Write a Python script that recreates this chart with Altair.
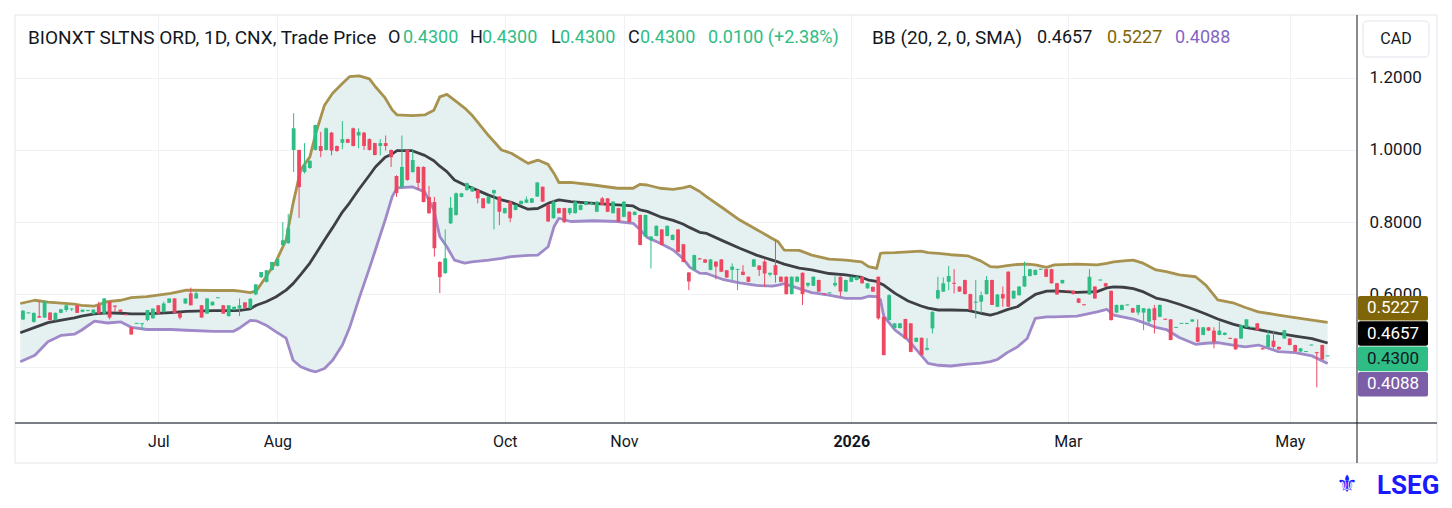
import altair as alt
import pandas as pd

# ---------------- data ----------------
opens = [
    .531, .549, .524, .540, .536, .550, .529, .549, .557, .559,
    .570, .552, .556, .546, .570, .547, .580, .569, .558, .545,
    .509, .520, .518, .529, .534, .570, .552, .577, .589, .549,
    .575, .603, .589, .570, .547, .570, .591, .570, .540, .557,
    .561, .578, .562, .600, .648, .635, .668, .679, .737, .742,
    1.000, 1.000, .939, .950, 1.000, 1.011, 1.000, 1.048, 1.011, 1.020,
    1.030, 1.060, 1.040, 1.048, 1.030, 1.019, 1.011, 1.019, 1.000, .928,
    .897, 1.000, .939, .953, .953, .870, .856, .690, .659, .797,
    .820, .870, .889, .885, .889, .866, .852, .880, .871, .825,
    .857, .834, .850, .854, .854, .871, .898, .848, .811, .839,
    .839, .825, .825, .834, .848, .850, .829, .866, .866, .825,
    .839, .815, .829, .820, .820, .760, .750, .762, .780, .762,
    .751, .780, .739, .661, .668, .700, .697, .668, .691, .697,
    .667, .668, .669, .663, .649, .677, .680, .691, .655, .681,
    .649, .649, .601, .635, .660, .625, .624, .640, .602, .604,
    .625, .649, .608, .635, .640, .649, .617, .621, .649, .538,
    .529, .507, .507, .532, .520, .469, .480, .447, .506, .589,
    .608, .635, .632, .622, .640, .601, .577, .580, .601, .640,
    .566, .601, .663, .589, .598, .622, .651, .654, .670, .670,
    .670, .631, .631, .611, .610, .589, .572, .600, .622, .640,
    .631, .610, .550, .557, .571, .562, .550, .550, .525, .562,
    .538, .532, .531, .509, .520, .520, .525, .509, .488, .509,
    .500, .488, .488, .479, .478, .478, .509, .509, .520, .451,
    .455, .472, .455, .478, .478, .460, .442, .442, .460, .440,
    .460, .430,
]
highs = [
    .557, .550, .550, .582, .582, .551, .550, .560, .572, .561,
    .571, .558, .557, .559, .580, .590, .581, .570, .558, .546,
    .510, .521, .520, .557, .561, .571, .580, .589, .590, .550,
    .589, .619, .607, .571, .589, .580, .592, .571, .570, .566,
    .589, .579, .590, .628, .662, .667, .690, .698, .800, .823,
    1.102, 1.001, 1.019, .972, 1.070, 1.050, 1.062, 1.050, 1.012, 1.080,
    1.031, 1.062, 1.060, 1.050, 1.032, 1.020, 1.030, 1.040, 1.001, .930,
    1.040, 1.001, 1.000, .955, .955, .900, .870, .692, .780, .870,
    .882, .881, .910, .899, .890, .867, .872, .890, .872, .840,
    .858, .849, .860, .871, .867, .911, .899, .849, .862, .840,
    .840, .840, .858, .849, .858, .857, .858, .870, .867, .858,
    .840, .858, .830, .830, .821, .821, .762, .791, .781, .791,
    .766, .781, .740, .662, .710, .701, .698, .698, .692, .698,
    .668, .686, .670, .681, .650, .698, .681, .697, .660, .751,
    .650, .650, .650, .651, .661, .633, .650, .641, .603, .606,
    .650, .650, .641, .650, .650, .650, .632, .622, .650, .539,
    .601, .521, .521, .533, .521, .481, .481, .479, .553, .649,
    .647, .679, .670, .623, .641, .602, .640, .608, .651, .641,
    .601, .622, .664, .611, .623, .691, .671, .669, .671, .671,
    .671, .632, .641, .612, .611, .590, .573, .670, .623, .641,
    .632, .611, .572, .572, .572, .563, .571, .562, .563, .571,
    .572, .533, .532, .510, .521, .521, .531, .531, .510, .510,
    .509, .525, .495, .480, .479, .516, .532, .510, .521, .452,
    .500, .500, .456, .502, .479, .461, .452, .443, .461, .441,
    .461, .430,
]
lows = [
    .529, .548, .522, .535, .535, .528, .528, .548, .552, .554,
    .549, .551, .553, .545, .545, .546, .531, .552, .552, .542,
    .489, .519, .503, .526, .533, .547, .550, .576, .549, .531,
    .574, .570, .588, .536, .546, .569, .590, .547, .539, .556,
    .540, .560, .560, .598, .645, .633, .666, .677, .735, .740,
    .939, .812, .935, .948, .998, .980, .998, .985, .995, 1.002,
    1.019, 1.010, 1.005, 1.000, .998, .985, .985, .998, .953, .870,
    .895, .915, .937, .890, .855, .823, .705, .604, .657, .795,
    .818, .869, .887, .884, .852, .838, .851, .780, .792, .824,
    .800, .833, .849, .853, .853, .870, .856, .801, .810, .824,
    .799, .820, .824, .833, .847, .849, .828, .847, .828, .824,
    .801, .814, .799, .819, .736, .759, .672, .761, .736, .761,
    .750, .717, .689, .612, .667, .697, .687, .667, .642, .662,
    .646, .640, .612, .653, .634, .676, .651, .621, .650, .633,
    .634, .600, .600, .634, .571, .620, .623, .607, .600, .603,
    .621, .594, .607, .634, .639, .630, .616, .607, .530, .432,
    .528, .506, .506, .477, .440, .468, .431, .445, .492, .586,
    .607, .612, .603, .607, .600, .556, .534, .548, .600, .571,
    .565, .566, .566, .588, .597, .621, .650, .653, .669, .648,
    .630, .599, .630, .609, .600, .576, .570, .599, .588, .639,
    .621, .528, .549, .556, .570, .549, .543, .501, .520, .492,
    .537, .530, .473, .508, .519, .519, .524, .468, .487, .499,
    .451, .487, .487, .477, .447, .477, .508, .508, .500, .447,
    .454, .451, .447, .477, .459, .441, .441, .441, .459, .343,
    .419, .430,
]
closes = [
    .555, .549, .549, .536, .580, .529, .549, .559, .570, .561,
    .549, .558, .556, .558, .547, .589, .536, .566, .552, .543,
    .489, .520, .520, .557, .561, .547, .575, .589, .549, .536,
    .589, .570, .603, .536, .589, .580, .591, .547, .570, .566,
    .570, .563, .588, .628, .662, .667, .690, .698, .750, .783,
    1.060, .897, .958, .970, 1.069, .997, 1.060, .998, .997, 1.030,
    1.020, 1.011, 1.050, 1.011, 1.000, .986, 1.019, 1.011, .980, .881,
    .953, .917, .972, .909, .856, .825, .728, .648, .700, .840,
    .880, .880, .908, .898, .866, .839, .871, .889, .829, .839,
    .811, .848, .859, .863, .866, .910, .857, .802, .857, .825,
    .800, .839, .857, .848, .857, .853, .857, .848, .829, .857,
    .802, .857, .800, .829, .737, .820, .760, .790, .737, .790,
    .765, .718, .690, .636, .709, .697, .688, .697, .677, .663,
    .647, .677, .670, .654, .635, .697, .668, .658, .660, .654,
    .635, .601, .649, .649, .601, .632, .649, .608, .601, .605,
    .632, .608, .640, .649, .649, .631, .631, .608, .534, .432,
    .598, .520, .520, .478, .441, .480, .432, .452, .552, .612,
    .631, .651, .630, .608, .601, .557, .580, .598, .640, .571,
    .600, .589, .566, .610, .622, .651, .670, .668, .670, .649,
    .631, .600, .640, .610, .601, .577, .571, .649, .589, .640,
    .622, .529, .571, .571, .571, .550, .571, .562, .560, .529,
    .571, .531, .474, .509, .520, .520, .531, .469, .509, .500,
    .469, .500, .494, .478, .448, .515, .531, .509, .501, .448,
    .488, .455, .448, .501, .460, .442, .451, .442, .460, .438,
    .420, .430,
]

# Bollinger bands (20, 2) read at sample bars
band_idx = [
    -0.5, 2.2, 4.6, 7.1, 9.5, 10.8, 13.2, 15.6, 18.1, 20.0,
    22.9, 27.3, 30.2, 35.2, 38.9, 40.1, 42.0, 43.1, 44.9, 46.7,
    48.6, 49.9, 51.3, 53.0, 54.1, 55.7, 57.2, 59.0, 60.3, 62.1,
    64.0, 65.1, 66.9, 68.2, 69.1, 71.9, 74.2, 75.9, 77.0, 78.3,
    79.7, 81.6, 82.9, 86.0, 88.4, 90.2, 93.3, 95.1, 97.0, 98.1,
    99.0, 101.2, 105.4, 109.8, 112.7, 114.0, 115.3, 117.7, 120.1, 121.9,
    123.2, 125.0, 126.3, 129.2, 132.4, 135.5, 138.4, 139.5, 140.6, 143.4,
    145.7, 148.9, 152.0, 154.9, 156.2, 157.7, 158.4, 159.0, 161.1, 163.5,
    165.9, 167.2, 169.1, 171.4, 174.5, 176.9, 178.7, 180.0, 181.8, 183.7,
    185.5, 187.0, 189.1, 190.5, 194.7, 198.4, 200.2, 201.5, 203.3, 205.1,
    207.0, 209.3, 211.2, 213.6, 216.6, 218.5, 220.7, 223.5, 225.8, 228.2,
    231.9, 235.0, 238.1, 241.0,
]
band_upper = [
    .575, .584, .579, .576, .573, .570, .568, .580, .584, .591,
    .594, .603, .612, .611, .611, .609, .605, .610, .649, .690,
    .751, .853, .945, .981, 1.047, 1.124, 1.157, 1.184, 1.203, 1.205,
    1.197, 1.175, 1.144, 1.111, 1.097, 1.095, 1.097, 1.110, 1.147, 1.154,
    1.138, 1.116, 1.097, 1.040, 1.000, .991, .963, .972, .960, .935,
    .910, .910, .903, .894, .894, .905, .903, .894, .891, .895,
    .900, .885, .870, .840, .806, .780, .755, .746, .723, .722,
    .709, .698, .695, .690, .677, .672, .714, .715, .716, .718,
    .720, .716, .714, .710, .707, .693, .677, .676, .680, .683,
    .684, .682, .675, .682, .684, .682, .686, .690, .693, .695,
    .686, .668, .663, .654, .649, .626, .585, .577, .564, .552,
    .543, .536, .529, .5227,
]
band_mid = [
    .494, .509, .522, .529, .535, .540, .546, .549, .548, .546,
    .546, .550, .553, .555, .555, .556, .560, .570, .580, .593,
    .612, .630, .655, .687, .713, .751, .785, .828, .853, .892,
    .930, .953, .980, .989, .998, .998, .985, .970, .955, .940,
    .917, .903, .895, .875, .862, .855, .836, .838, .852, .858,
    .862, .857, .852, .848, .845, .834, .830, .815, .805, .795,
    .785, .772, .769, .749, .728, .709, .695, .690, .684, .673,
    .668, .658, .654, .647, .640, .636, .630, .626, .603, .582,
    .568, .562, .557, .557, .556, .548, .543, .548, .558, .566,
    .585, .600, .609, .610, .606, .608, .618, .621, .620, .616,
    .607, .590, .584, .573, .557, .546, .532, .518, .509, .503,
    .492, .485, .478, .4657,
]
band_lower = [
    .414, .432, .469, .487, .490, .501, .526, .521, .524, .509,
    .503, .503, .501, .498, .498, .508, .528, .527, .515, .497,
    .479, .418, .400, .390, .386, .395, .418, .460, .507, .590,
    .673, .723, .806, .871, .895, .898, .884, .834, .760, .732,
    .695, .687, .690, .695, .700, .705, .708, .709, .732, .788,
    .811, .802, .804, .802, .797, .779, .758, .742, .723, .700,
    .675, .659, .658, .642, .632, .625, .623, .626, .630, .616,
    .605, .598, .589, .589, .595, .594, .585, .540, .501, .474,
    .432, .409, .404, .402, .407, .410, .414, .420, .439, .455,
    .478, .534, .538, .538, .540, .552, .559, .543, .537, .532,
    .522, .509, .503, .481, .462, .465, .467, .460, .455, .460,
    .442, .439, .430, .4088,
]

month_idx = [25, 47, 89, 111, 153, 193, 234]
month_names = ["Jul", "Aug", "Oct", "Nov", "2026", "Mar", "May"]
year_label = "2026"
y_ticks = [0.4, 0.6, 0.8, 1.0, 1.2]

header_parts = ["BIONXT SLTNS ORD, 1D, CNX, Trade Price", "O", "0.4300", "H", "0.4300",
                "L", "0.4300", "C", "0.4300", "0.0100 (+2.38%)",
                "BB (20, 2, 0, SMA)", "0.4657", "0.5227", "0.4088"]
currency = "CAD"
brand = "LSEG"

# ---------------- styles / layout ----------------
UP, DOWN = "#2ebd85", "#ee4762"
TXT = "#131722"
GOLD_LINE, MID_LINE, PURP_LINE = "#a8924f", "#3e4046", "#9f89c9"
FILL = "#e4f1f0"
GRID = "#eff1f4"
W, H = 1342, 408
FONT = "Roboto"

n = len(opens)
assert len(highs) == n and len(lows) == n and len(closes) == n
assert len(band_idx) == len(band_upper) == len(band_mid) == len(band_lower)

df = pd.DataFrame({"idx": list(range(n)), "o": opens, "h": highs, "l": lows, "c": closes})
df["dir"] = ["up" if c >= o else "down" for o, c in zip(opens, closes)]
tiny = 0.0014
mid_oc = (df["o"] + df["c"]) / 2
flat = (df["o"] - df["c"]).abs() < 2 * tiny
df["bt"] = df[["o", "c"]].max(axis=1).where(~flat, mid_oc + tiny)
df["bb"] = df[["o", "c"]].min(axis=1).where(~flat, mid_oc - tiny)

bdf = pd.DataFrame({"idx": band_idx, "up": band_upper, "mid": band_mid, "lo": band_lower})

xs = alt.Scale(domain=[-0.55, 245.5], nice=False, zero=False)
ys = alt.Scale(domain=[0.2442, 1.3736], nice=False, zero=False)


# last-value labels on the price scale, pushed apart when they overlap
def spread(vals, gap):
    clusters = [[v] for v in sorted(vals, reverse=True)]

    def layout(cl):
        c = sum(cl) / len(cl)
        top = c + gap * (len(cl) - 1) / 2
        return [top - gap * k for k in range(len(cl))]

    changed = True
    while changed:
        changed = False
        for j in range(len(clusters) - 1):
            a, b = layout(clusters[j]), layout(clusters[j + 1])
            if a[-1] - b[0] < gap:
                clusters[j] = clusters[j] + clusters.pop(j + 1)
                changed = True
                break
    out = []
    for cl in clusters:
        out += layout(cl)
    return out


last_vals = [band_upper[-1], band_mid[-1], closes[-1], band_lower[-1]]
fills = ["#7f6508", "#000000", UP, "#7b5ea7"]
tcols = ["#ffffff", "#ffffff", TXT, "#ffffff"]
order = sorted(range(4), key=lambda k: -last_vals[k])
gap = 0.0701
pos = spread(last_vals, gap)
tops = [p + gap / 2 - 0.001 for p in pos]
bots = [p - gap / 2 + 0.001 for p in pos]
ldf = pd.DataFrame({
    "pos": pos, "top": tops, "bot": bots,
    "text": [f"{last_vals[k]:.4f}" for k in order],
    "fill": [fills[k] for k in order],
    "tc": [tcols[k] for k in order],
})

# price-scale tick labels that sit completely under a value box are not shown
shown_ticks = [t for t in y_ticks if not any(b <= t <= tp for b, tp in zip(bots, tops))]
y_label_expr = ("indexof([" + ",".join(str(t) for t in shown_ticks) +
                "], datum.value) >= 0 ? format(datum.value, '.4f') : ''")

label_expr = ""
for v, name in zip(month_idx, month_names):
    label_expr += f"datum.value == {v} ? '{name}' : "
label_expr += "''"
year_pos = month_idx[month_names.index(year_label)]

x_axis = alt.Axis(values=month_idx, labelExpr=label_expr, title=None, grid=True,
                  gridColor=GRID, domain=False, ticks=False, labelFont=FONT,
                  labelFontSize=16, labelColor=TXT, labelPadding=10,
                  labelFontWeight={"condition": {"test": f"datum.value == {year_pos}", "value": "bold"},
                                   "value": "normal"},
                  labelOverlap=False, labelFlush=False)
y_axis = alt.Axis(orient="right", values=y_ticks, labelExpr=y_label_expr, title=None, grid=True,
                  gridColor=GRID, domain=False, ticks=False, labelFont=FONT,
                  labelFontSize=17, labelColor=TXT, labelPadding=12, labelAlign="left",
                  labelOverlap=False, labelFlush=False)


def X():
    return alt.X("idx:Q", scale=xs, axis=x_axis)


def Y(f):
    return alt.Y(f"{f}:Q", scale=ys, axis=y_axis)


col = alt.Color("dir:N", scale=alt.Scale(domain=["up", "down"], range=[UP, DOWN]), legend=None)

area = alt.Chart(bdf).mark_area(color=FILL, opacity=1).encode(x=X(), y=Y("up"), y2=alt.Y2("lo:Q"))
l_up = alt.Chart(bdf).mark_line(color=GOLD_LINE, strokeWidth=2.8, strokeJoin="round").encode(x=X(), y=Y("up"))
l_mid = alt.Chart(bdf).mark_line(color=MID_LINE, strokeWidth=2.8, strokeJoin="round").encode(x=X(), y=Y("mid"))
l_lo = alt.Chart(bdf).mark_line(color=PURP_LINE, strokeWidth=2.8, strokeJoin="round").encode(x=X(), y=Y("lo"))

wicks = alt.Chart(df).mark_rule(strokeWidth=1).encode(x=X(), y=Y("l"), y2=alt.Y2("h:Q"), color=col)
bodies = alt.Chart(df).mark_bar(size=3.8).encode(x=X(), y=Y("bb"), y2=alt.Y2("bt:Q"), color=col)

one = pd.DataFrame({"k": [0]})
frame = alt.Chart(one).mark_rect(fillOpacity=0, stroke="#e3e5ea", strokeWidth=1).encode(
    x=alt.value(0), x2=alt.value(1422), y=alt.value(0), y2=alt.value(448))
xline = alt.Chart(one).mark_rule(color="#50535e", strokeWidth=1.5).encode(
    x=alt.value(0), x2=alt.value(1422), y=alt.value(H))
yline = alt.Chart(one).mark_rule(color=TXT, strokeWidth=1).encode(
    x=alt.value(W), y=alt.value(0), y2=alt.value(448))

# header legend
head_x = [13, 373, 388, 455, 467, 536, 545, 613, 625, 693, 857, 1022, 1092, 1160]
head_c = [TXT, TXT, UP, TXT, UP, TXT, UP, TXT, UP, UP, TXT, TXT, "#7f6508", "#8366c4"]
head_fs = [19, 18, 18, 18, 18, 18, 18, 18, 18, 18, 19, 18, 18, 18]
head_layers = []
for t, hx, hc, fs in zip(header_parts, head_x, head_c, head_fs):
    head_layers.append(
        alt.Chart(one).mark_text(text=t, align="left", baseline="middle", font=FONT,
                                 fontSize=fs, color=hc).encode(
            x=alt.value(hx), y=alt.value(23)))

# currency box
cad_box = alt.Chart(one).mark_rect(cornerRadius=4, fill="white", stroke="#e0e3eb").encode(
    x=alt.value(1348), x2=alt.value(1414), y=alt.value(6), y2=alt.value(42))
cad_txt = alt.Chart(one).mark_text(text=currency, align="center", baseline="middle", font=FONT,
                                   fontSize=16, color=TXT).encode(x=alt.value(1381), y=alt.value(24))

lbl_box = alt.Chart(ldf).mark_rect(cornerRadius=2).encode(
    x=alt.value(W + 1), x2=alt.value(1413), y=Y("top"), y2=alt.Y2("bot:Q"),
    color=alt.Color("fill:N", scale=None))
lbl_txt = alt.Chart(ldf).mark_text(align="center", baseline="middle", font=FONT, fontSize=17).encode(
    x=alt.value(1378), y=Y("pos"), text="text:N", color=alt.Color("tc:N", scale=None))

logo = alt.Chart(one).mark_text(text=brand, align="left", baseline="middle", font=FONT,
                                fontWeight="bold", fontSize=26, color="#1a1aff").encode(
    x=alt.value(1362), y=alt.value(471))
crest = alt.Chart(one).mark_text(text="\u269c", align="center", baseline="middle", font="DejaVu Sans",
                                 fontSize=24, color="#1a1aff").encode(x=alt.value(1332), y=alt.value(470))

chart = alt.layer(
    area, l_up, l_lo, l_mid, wicks, bodies, frame, xline, yline,
    *head_layers, cad_box, cad_txt, lbl_box, lbl_txt, logo, crest
).properties(
    width=W, height=H,
    padding={"left": 7, "top": 7, "right": 87, "bottom": 77},
    autosize=alt.AutoSizeParams(type="none"),
    background="white",
).configure_view(stroke=None)

chart.save("out.html", embed_options={"renderer": "svg", "actions": False})
